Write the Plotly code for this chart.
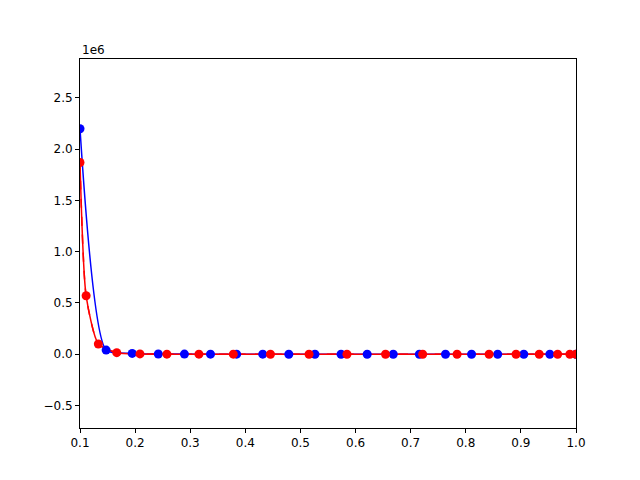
import plotly.graph_objects as go

blue_x = [0.1, 0.1474, 0.1947, 0.2421, 0.2895, 0.3368, 0.3842, 0.4316, 0.4789, 0.5263,
          0.5737, 0.6211, 0.6684, 0.7158, 0.7632, 0.8105, 0.8579, 0.9053, 0.9526, 1.0]
blue_y = [2.2e6, 4.0e4, 8.0e3, 2.0e3, 800, 300, 150, 80, 40, 20,
          12, 8, 5, 3, 2, 1.5, 1, 0.8, 0.6, 0.5]
red_x = [0.1, 0.1111, 0.1333, 0.1667, 0.2088, 0.2577, 0.3158, 0.3782, 0.4456, 0.5156,
         0.5844, 0.6544, 0.7218, 0.7842, 0.8423, 0.8912, 0.9333, 0.9667, 0.9889, 1.0]
red_y = [1.87e6, 5.7e5, 1.0e5, 1.5e4, 3.0e3, 600, 200, 80, 30, 15,
         8, 5, 3, 2, 1.5, 1, 0.8, 0.6, 0.5, 0.5]

yticks = [-0.5e6, 0, 0.5e6, 1.0e6, 1.5e6, 2.0e6, 2.5e6]
ytext = ["−0.5", "0.0", "0.5", "1.0", "1.5", "2.0", "2.5"]
xticks = [0.1, 0.2, 0.3, 0.4, 0.5, 0.6, 0.7, 0.8, 0.9, 1.0]
xtext = ["0.1", "0.2", "0.3", "0.4", "0.5", "0.6", "0.7", "0.8", "0.9", "1.0"]

fig = go.Figure()
fig.add_trace(go.Scatter(x=blue_x, y=blue_y, mode="lines", line=dict(color="blue", width=1.5, shape="spline", smoothing=0.6)))
fig.add_trace(go.Scatter(x=red_x, y=red_y, mode="lines", line=dict(color="red", width=1.5, dash="dash", shape="spline", smoothing=0.6)))
fig.add_trace(go.Scatter(x=red_x, y=red_y, mode="lines", line=dict(color="red", width=1.5, shape="spline", smoothing=0.6)))
fig.add_trace(go.Scatter(x=blue_x, y=blue_y, mode="markers", marker=dict(color="blue", size=9)))
fig.add_trace(go.Scatter(x=red_x, y=red_y, mode="markers", marker=dict(color="red", size=9)))

axis_common = dict(showgrid=False, zeroline=False, showline=True, linecolor="black", mirror=True,
                   automargin=False,
                   ticks="outside", ticklen=4, tickcolor="black", tickfont=dict(family="DejaVu Sans", size=12, color="black"))
fig.update_layout(
    width=640, height=480, showlegend=False,
    paper_bgcolor="white", plot_bgcolor="white",
    margin=dict(l=72, r=72, t=51, b=60),
    xaxis=dict(range=[0.1, 1.0], tickvals=xticks, ticktext=xtext, **axis_common),
    yaxis=dict(range=[-0.72e6, 2.88e6], tickvals=yticks, ticktext=ytext, **axis_common),
    annotations=[dict(text="1e6", xref="paper", yref="paper", x=0, y=1, xanchor="left", yanchor="bottom",
                      showarrow=False, font=dict(family="DejaVu Sans", size=12, color="black"))],
)
fig.write_html("out.html")
